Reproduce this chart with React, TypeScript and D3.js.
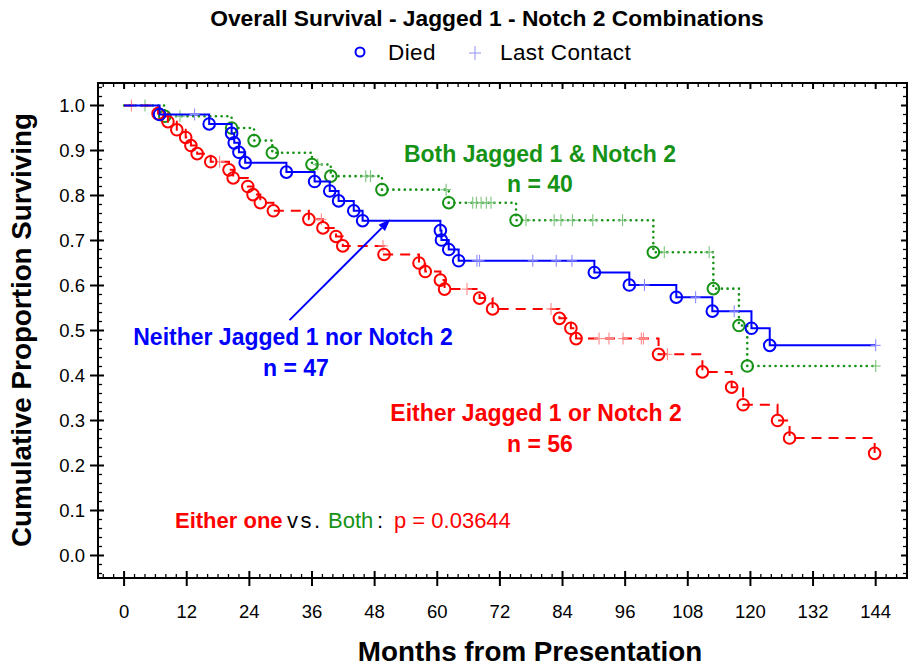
import React from 'react'
import * as d3 from 'd3'

// months, proportion surviving (after the step)
const neitherDied = [
    [6.8, 0.98], [16.3, 0.959], [20.6, 0.938], [21.1, 0.917], [22.0, 0.896], [23.2, 0.873],
    [31.1, 0.852], [36.5, 0.831], [39.4, 0.81], [41.1, 0.788], [44.0, 0.766], [45.7, 0.744],
    [60.6, 0.722], [60.8, 0.701], [62.2, 0.68], [64.1, 0.655], [90.1, 0.629], [96.8, 0.601],
    [105.8, 0.574], [112.7, 0.543], [120.2, 0.505], [123.7, 0.467],
]
const neitherCensored = [
    [13.5, 0.98], [67.6, 0.655], [68.1, 0.655], [78.3, 0.655], [82.8, 0.655], [85.8, 0.655],
    [99.7, 0.601], [109.5, 0.574], [116.9, 0.543], [144, 0.467],
]

const bothDied = [
    [7.8, 0.976], [20.6, 0.95], [24.9, 0.922], [28.4, 0.895], [36.0, 0.869], [39.6, 0.843],
    [49.4, 0.813], [62.2, 0.784], [75.1, 0.745], [101.4, 0.674], [112.9, 0.593], [117.8, 0.511],
    [119.4, 0.421],
]
const bothCensored = [
    [4.0, 1.0], [10.7, 0.976], [37.1, 0.869], [46.3, 0.843], [47.2, 0.843], [61.7, 0.813],
    [66.8, 0.784], [67.5, 0.784], [68.4, 0.784], [69.4, 0.784], [70.3, 0.784], [77.0, 0.745],
    [82.4, 0.745], [83.7, 0.745], [85.9, 0.745], [89.8, 0.745], [95.5, 0.745], [103.5, 0.674],
    [112.1, 0.674], [144, 0.421],
]

const eitherDied = [
    [6.5, 0.982], [8.4, 0.964], [10.1, 0.946], [11.8, 0.929], [12.8, 0.911], [14.0, 0.893],
    [16.6, 0.875], [20.1, 0.857], [20.9, 0.839], [23.7, 0.82], [24.7, 0.802], [26.1, 0.784],
    [28.6, 0.766], [35.4, 0.747], [38.1, 0.728], [40.6, 0.709], [41.9, 0.688], [49.8, 0.669],
    [56.5, 0.65], [57.7, 0.631], [60.6, 0.612], [61.4, 0.592], [68.1, 0.572], [70.6, 0.548],
    [83.4, 0.527], [85.6, 0.505], [86.6, 0.482], [102.4, 0.447], [110.8, 0.408], [116.4, 0.374],
    [118.6, 0.335], [125.2, 0.3], [127.5, 0.261], [143.8, 0.227],
]
const eitherCensored = [
    [1.4, 1.0], [18.3, 0.875], [37.8, 0.747], [49.6, 0.688], [65.7, 0.592], [81.8, 0.548],
    [91.0, 0.482], [92.9, 0.482], [95.6, 0.482], [99.1, 0.482], [99.5, 0.482], [104.1, 0.447],
]

const xMajor = d3.range(0, 145, 12)
const yMajor = d3.range(0, 11).map(i => i / 10)

const font = 'Liberation Sans, Arial, Helvetica, sans-serif'
const BLUE = '#0000ff'
const GREEN = '#169316'
const RED = '#ff0000'

const groups = [
    { died: bothDied, censored: bothCensored, color: GREEN, plus: '#7cc47c', dash: '0.1,5.6', cap: 'round' },
    { died: eitherDied, censored: eitherCensored, color: RED, plus: '#ff8a8a', dash: '10,7', cap: 'butt' },
    { died: neitherDied, censored: neitherCensored, color: BLUE, plus: '#8c8cff', dash: null, cap: 'butt' },
]

const W = 914
const H = 671
const left = 98, right = 907, top = 83, bottom = 578

const x = d3.scaleLinear().domain([-5, 150]).range([left, right])
const y = d3.scaleLinear().domain([-0.05, 1.05]).range([bottom, top])

const step = d3.line<number[]>()
    .x(d => x(d[0]))
    .y(d => y(d[1]))
    .curve(d3.curveStepAfter)

// frame ticks
const Frame = () => {
    const xMinor = d3.range(-4, 150, 2).filter(v => v % 12 !== 0)
    const yMinor = d3.range(-2, 53).map(i => i / 50).filter(v => Math.round(v * 50) % 5 !== 0)
    return (
        <g stroke='#000' fill='none'>
            <rect x={left} y={top} width={right - left} height={bottom - top} strokeWidth={2} />
            {xMinor.map(v => (
                <g key={'xm' + v} strokeWidth={1.3}>
                    <line x1={x(v)} x2={x(v)} y1={bottom} y2={bottom - 4} />
                    <line x1={x(v)} x2={x(v)} y1={top} y2={top + 4} />
                </g>
            ))}
            {xMajor.map(v => (
                <g key={'xM' + v} strokeWidth={2}>
                    <line x1={x(v)} x2={x(v)} y1={bottom + 8} y2={bottom - 7} />
                    <line x1={x(v)} x2={x(v)} y1={top} y2={top + 6} />
                </g>
            ))}
            {yMinor.map(v => (
                <g key={'ym' + v} strokeWidth={1.3}>
                    <line x1={left} x2={left + 4} y1={y(v)} y2={y(v)} />
                    <line x1={right} x2={right - 4} y1={y(v)} y2={y(v)} />
                </g>
            ))}
            {yMajor.map(v => (
                <g key={'yM' + v} strokeWidth={2}>
                    <line x1={left - 8} x2={left + 6} y1={y(v)} y2={y(v)} />
                    <line x1={right} x2={right - 6} y1={y(v)} y2={y(v)} />
                </g>
            ))}
        </g>
    )
}

const Curve = ({ g }) => {
    const last = g.died[g.died.length - 1]
    const end = Math.max(last[0], ...g.censored.map(d => d[0]))
    const pts = [[0, 1], ...g.died, [end, last[1]]]
    return (
        <g>
            <path
                d={step(pts)}
                fill='none'
                stroke={g.color}
                strokeWidth={g.dash && g.cap === 'round' ? 2.6 : 2}
                strokeDasharray={g.dash || undefined}
                strokeLinecap={g.cap}
            />
            {g.censored.map((d, i) => (
                <g key={'c' + i} stroke={g.plus} strokeWidth={1.1}>
                    <line x1={x(d[0]) - 5} x2={x(d[0]) + 5} y1={y(d[1])} y2={y(d[1])} />
                    <line x1={x(d[0])} x2={x(d[0])} y1={y(d[1]) - 6} y2={y(d[1]) + 6} />
                </g>
            ))}
            {g.died.map((d, i) => (
                <circle key={'d' + i} cx={x(d[0])} cy={y(d[1])} r={5.8}
                    fill='none' stroke={g.color} strokeWidth={2} />
            ))}
        </g>
    )
}

const Arrow = ({ from, to }) => {
    const x1 = x(from[0]), y1 = y(from[1]), x2 = x(to[0]), y2 = y(to[1])
    const a = Math.atan2(y2 - y1, x2 - x1)
    const len = 12, wid = 4.5
    const bx = x2 - len * Math.cos(a), by = y2 - len * Math.sin(a)
    const head = [
        [x2, y2],
        [bx + wid * Math.sin(a), by - wid * Math.cos(a)],
        [bx - wid * Math.sin(a), by + wid * Math.cos(a)],
    ]
    return (
        <g>
            <line x1={x1} y1={y1} x2={bx} y2={by} stroke={BLUE} strokeWidth={2} />
            <polygon points={head.map(p => p.join(',')).join(' ')} fill={BLUE} />
        </g>
    )
}

const App = () => {
    return (
        <svg width={W} height={H} style={{ position: 'absolute', left: 0, top: 0, background: '#fff' }}
            fontFamily={font}>
            <text x={487} y={26} textAnchor='middle' fontSize={22.8} fontWeight='bold'>
                Overall Survival - Jagged 1 - Notch 2 Combinations
            </text>

            {/* legend */}
            <circle cx={360} cy={52} r={4.5} fill='none' stroke={BLUE} strokeWidth={2} />
            <text x={388} y={60} fontSize={22.5} letterSpacing={0.4}>Died</text>
            <g stroke='#9c9cf0' strokeWidth={1.1}>
                <line x1={469} x2={481} y1={53} y2={53} />
                <line x1={475} x2={475} y1={46} y2={60} />
            </g>
            <text x={500} y={60} fontSize={22.5} letterSpacing={0.4}>Last Contact</text>

            <Frame />

            {yMajor.map(v => (
                <text key={'yl' + v} x={85} y={y(v) + 6.5} textAnchor='end' fontSize={18.5}>
                    {d3.format('.1f')(v)}
                </text>
            ))}
            {xMajor.map(v => (
                <text key={'xl' + v} x={x(v)} y={618} textAnchor='middle' fontSize={18.5}>{v}</text>
            ))}

            {groups.map((g, i) => <Curve key={i} g={g} />)}

            <Arrow from={[31.7, 0.523]} to={[51, 0.747]} />

            <g fontWeight='bold' fontSize={23} textAnchor='middle'>
                <text x={540} y={162} fill={GREEN}>Both Jagged 1 &amp; Notch 2</text>
                <text x={540} y={192} fill={GREEN}>n = 40</text>
                <text x={293} y={345} fill={BLUE}>Neither Jagged 1 nor Notch 2</text>
                <text x={296} y={376} fill={BLUE}>n = 47</text>
                <text x={536} y={421} fill={RED}>Either Jagged 1 or Notch 2</text>
                <text x={540} y={452} fill={RED}>n = 56</text>
            </g>

            <g fontSize={22}>
                <text x={175} y={528} fill={RED} fontWeight='bold'>Either one</text>
                <text x={287} y={528} fill='#000' letterSpacing={2.5}>vs.</text>
                <text x={328} y={528} fill={GREEN}>Both</text>
                <text x={377} y={528} fill='#000'>:</text>
                <text x={394} y={528} fill={RED}>p = 0.03644</text>
            </g>

            <text x={530} y={661} textAnchor='middle' fontSize={27.8} fontWeight='bold'>
                Months from Presentation
            </text>
            <text transform='translate(31, 330) rotate(-90)' textAnchor='middle' fontSize={27.8} fontWeight='bold'>
                Cumulative Proportion Surviving
            </text>
        </svg>
    )
}

export default App
